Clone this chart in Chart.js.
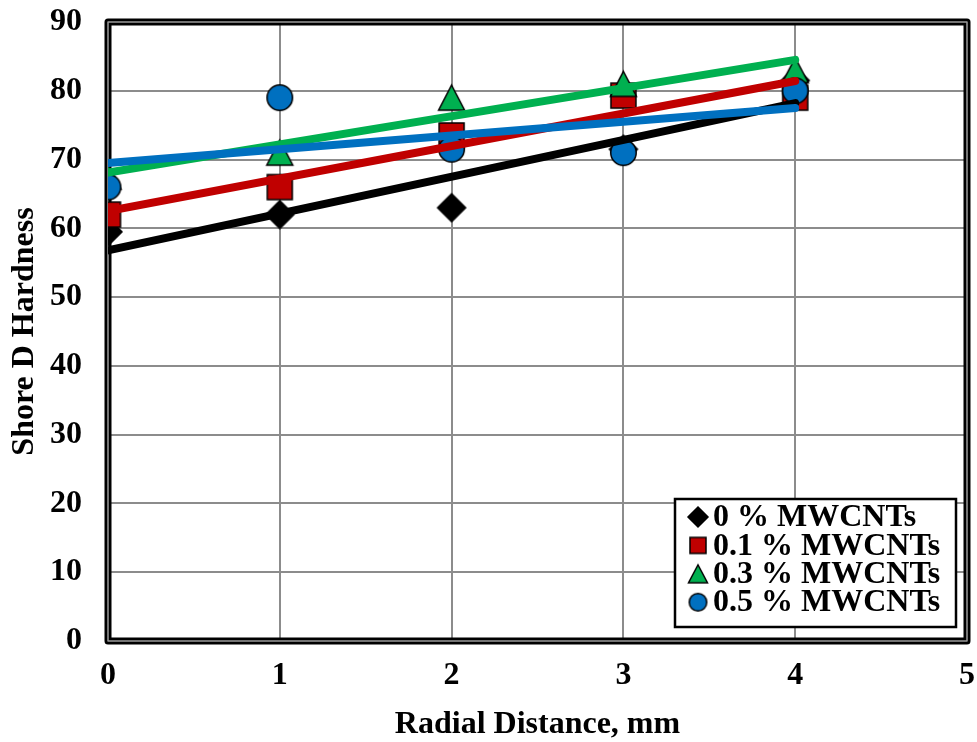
<!DOCTYPE html>
<html>
<head>
<meta charset="utf-8">
<script src="https://cdn.jsdelivr.net/npm/chart.js@4.4.0/dist/chart.umd.min.js"></script>
<style>
  html, body { margin: 0; padding: 0; background: #fff; overflow: hidden; }
  #chart1 { display: block; }
</style>
</head>
<body>
<canvas id="chart1" width="982" height="742"></canvas>
<script>
// Shore D hardness vs radial distance
const radialMm = [0, 1, 2, 3, 4];
const hard0 = [59.5, 62, 63, 71.5, 81.5];
const hard01 = [62, 66, 73.5, 79.3, 79];
const hard03 = [67.5, 71, 79, 81, 83];
const hard05 = [66, 79, 71.5, 71, 80];
const seriesLabels = ['0 % MWCNTs', '0.1 % MWCNTs', '0.3 % MWCNTs', '0.5 % MWCNTs'];
const seriesColors = ['#000000', '#C00000', '#00B050', '#0070C0'];
const seriesShapes = ['diamond', 'square', 'triangle', 'circle'];

const FONT = "'Liberation Serif', 'Times New Roman', serif";

function makeMarker(shape, size, fill) {
  const pad = 2;
  const c = document.createElement('canvas');
  c.width = c.height = size + pad * 2;
  const g = c.getContext('2d');
  const s = size, h = s / 2, cx = pad + h;
  g.fillStyle = fill;
  g.strokeStyle = '#000';
  g.lineWidth = 1.5;
  g.beginPath();
  if (shape === 'diamond') {
    g.moveTo(cx, pad); g.lineTo(pad + s, cx); g.lineTo(cx, pad + s); g.lineTo(pad, cx);
  } else if (shape === 'square') {
    g.rect(pad + 1, pad + 1, s - 2, s - 2);
  } else if (shape === 'triangle') {
    g.moveTo(cx, pad + 1); g.lineTo(pad + s - 0.5, pad + s - 1); g.lineTo(pad + 0.5, pad + s - 1);
  } else {
    g.arc(cx, cx, h - 0.75, 0, Math.PI * 2);
  }
  g.closePath();
  g.fill();
  g.stroke();
  return c;
}

const plotSizes = { diamond: 28, square: 27, triangle: 27, circle: 27 };
const legendSizes = { diamond: 20, square: 18, triangle: 20, circle: 19 };

// least squares trendline, drawn from first to last x
function fitLine(xs, ys) {
  const n = xs.length;
  const mx = xs.reduce((a, b) => a + b, 0) / n;
  const my = ys.reduce((a, b) => a + b, 0) / n;
  let sxy = 0, sxx = 0;
  for (let i = 0; i < n; i++) {
    sxy += (xs[i] - mx) * (ys[i] - my);
    sxx += (xs[i] - mx) * (xs[i] - mx);
  }
  const b = sxy / sxx;
  const a = my - b * mx;
  const x0 = xs[0], x1 = xs[n - 1];
  return [{ x: x0, y: a + b * x0 }, { x: x1, y: a + b * x1 }];
}

const allSeries = [hard0, hard01, hard03, hard05];
const datasets = [];

allSeries.forEach((vals, i) => {
  datasets.push({
    label: seriesLabels[i] + ' trend',
    data: fitLine(radialMm, vals),
    showLine: true,
    borderColor: seriesColors[i],
    borderWidth: 8,
    borderCapStyle: 'round',
    pointRadius: 0,
    order: 1.4 - i * 0.1
  });
});

allSeries.forEach((vals, i) => {
  datasets.push({
    label: seriesLabels[i],
    data: radialMm.map((x, k) => ({ x: x, y: vals[k] })),
    showLine: false,
    pointStyle: makeMarker(seriesShapes[i], plotSizes[seriesShapes[i]], seriesColors[i]),
    pointRadius: 14,
    order: 5 - i * 0.5
  });
});

const legendMarkers = seriesShapes.map((s, i) => makeMarker(s, legendSizes[s], seriesColors[i]));

const framePlugin = {
  id: 'framePlugin',
  beforeDatasetsDraw(chart) {
    const { ctx, chartArea: a } = chart;
    ctx.save();
    ctx.strokeStyle = '#000';
    ctx.lineWidth = 7;
    ctx.lineJoin = 'round';
    ctx.strokeRect(a.left, a.top, a.right - a.left, a.bottom - a.top);
    ctx.strokeStyle = '#9a9a9a';
    ctx.lineWidth = 1.5;
    ctx.strokeRect(a.left, a.top, a.right - a.left, a.bottom - a.top);
    ctx.restore();
  },
  afterDraw(chart) {
    const ctx = chart.ctx;
    const bx = 675, by = 499, bw = 281, bh = 128;
    ctx.save();
    ctx.fillStyle = '#fff';
    ctx.fillRect(bx, by, bw, bh);
    ctx.strokeStyle = '#000';
    ctx.lineWidth = 2.5;
    ctx.strokeRect(bx, by, bw, bh);
    ctx.font = 'bold 32px ' + FONT;
    ctx.fillStyle = '#000';
    ctx.textBaseline = 'middle';
    ctx.textAlign = 'left';
    seriesLabels.forEach((lab, i) => {
      const cy = 517 + i * 28.4;
      const m = legendMarkers[i];
      ctx.drawImage(m, 698 - m.width / 2, cy - m.height / 2);
      ctx.fillText(lab, 713, cy + 1);
    });
    ctx.restore();
  }
};

const tickFont = { family: FONT, size: 32, weight: 'bold' };

new Chart(document.getElementById('chart1').getContext('2d'), {
  type: 'scatter',
  data: { datasets: datasets },
  options: {
    responsive: false,
    animation: false,
    layout: { padding: { top: 22, right: 10, left: 0, bottom: 0 } },
    plugins: { legend: { display: false }, tooltip: { enabled: false } },
    scales: {
      x: {
        type: 'linear',
        min: 0,
        max: 5,
        ticks: { stepSize: 1, color: '#000', font: tickFont, padding: 16 },
        grid: { color: '#8c8c8c', lineWidth: 2, drawTicks: false },
        border: { display: false },
        title: {
          display: true,
          text: 'Radial Distance, mm',
          color: '#000',
          font: { family: FONT, size: 32, weight: 'bold', lineHeight: 1.1 },
          padding: { top: 0, bottom: 0 }
        },
        afterFit: (s) => { s.height = 101; s.paddingLeft = 0; s.paddingRight = 0; }
      },
      y: {
        min: 0,
        max: 90,
        ticks: { stepSize: 10, color: '#000', font: tickFont, padding: 26 },
        grid: { color: '#8c8c8c', lineWidth: 2, drawTicks: false },
        border: { display: false },
        title: {
          display: true,
          text: 'Shore D Hardness',
          color: '#000',
          font: { family: FONT, size: 32, weight: 'bold', lineHeight: 1.2 },
          padding: { top: 6, bottom: 0 }
        },
        afterFit: (s) => { s.width = 108; s.paddingTop = 0; s.paddingBottom = 0; }
      }
    }
  },
  plugins: [framePlugin]
});
</script>
</body>
</html>
